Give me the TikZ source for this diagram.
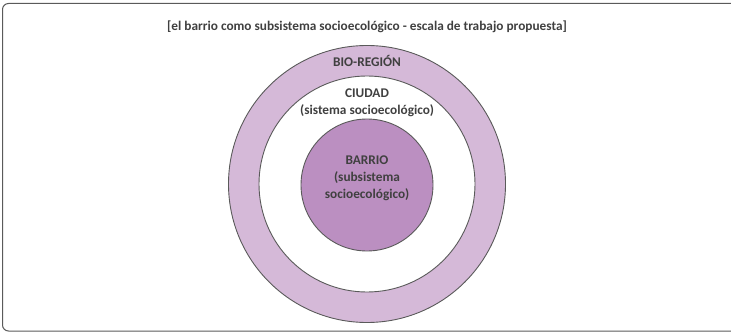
\documentclass[tikz,border=0pt]{standalone}
\usepackage{fontspec}
\setmainfont{Carlito}
\usepackage{xcolor}
\usetikzlibrary{positioning}

\definecolor{ringlila}{HTML}{D5B9D8}
\definecolor{barriolila}{HTML}{BB8FC1}
\definecolor{textgris}{HTML}{404040}
\definecolor{lineagris}{HTML}{5A5A5A}

\begin{document}
\begin{tikzpicture}[x=1pt, y=-1pt, font=\bfseries\fontsize{13.3}{16.8}\selectfont, text=textgris,
  ring/.style={circle, draw=lineagris, line width=0.9pt, inner sep=0pt},
  rotulo/.style={align=center, inner sep=1pt}]
\useasboundingbox (0,0) rectangle (731,334);

% ---------- marco ----------
\draw[lineagris, line width=1pt, rounded corners=6pt]
  (735,3.5) -- (2.5,3.5) -- (2.5,331) -- (735,331);
\node[rotulo] (titulo) at (367,27)
  {[el barrio como subsistema socioecológico - escala de trabajo propuesta]};

% ---------- circulos ----------
\node[ring, minimum size=277pt, fill=ringlila] (bioregion) at (367,184) {};
\node[ring, minimum size=216pt, fill=white]    (ciudad) at (367,184) {};
\node[ring, minimum size=132pt, fill=barriolila] (barrio) at (367,185) {};

% ---------- rotulos ----------
\node[rotulo] (lbio) at (367,61) {BIO-REGIÓN};
\node[rotulo] (lciudad) at (367,103) {CIUDAD\\(sistema socioecológico)};
\node[rotulo] (lbarrio) at (367,178) {BARRIO\\(subsistema\\socioecológico)};
\end{tikzpicture}
\end{document}
